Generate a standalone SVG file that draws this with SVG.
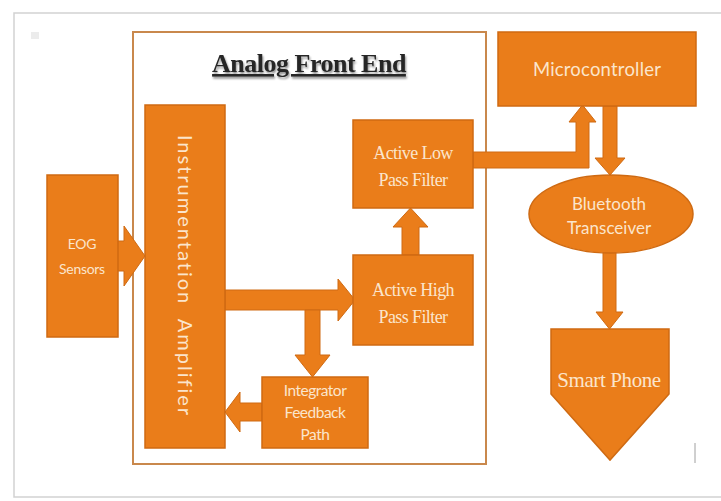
<svg xmlns="http://www.w3.org/2000/svg" width="721" height="501" viewBox="0 0 721 501">
  <defs>
    <style>
      .blk { fill: #ea7d1a; stroke: #cf6a12; stroke-width: 1.5; }
      .arw { fill: #ea7d1a; stroke: #cf6a12; stroke-width: 1; }
      .lbl { fill: #fbe5cc; text-anchor: middle; }
      .serif { font-family: "Liberation Serif", "DejaVu Serif", serif; }
      .sans { font-family: Lato, "Open Sans", "DejaVu Sans", sans-serif; }
    </style>
    <filter id="shadow" x="-10%" y="-30%" width="120%" height="160%">
      <feGaussianBlur in="SourceAlpha" stdDeviation="1"/>
      <feOffset dx="1" dy="2" result="b"/>
      <feComponentTransfer><feFuncA type="linear" slope="0.45"/></feComponentTransfer>
      <feMerge><feMergeNode/><feMergeNode in="SourceGraphic"/></feMerge>
    </filter>
  </defs>

  <!-- page background and sheet edge -->
  <rect x="0" y="0" width="721" height="501" fill="#ffffff"/>
  <rect x="14" y="13" width="720" height="484" fill="#ffffff" stroke="#d2d2d2" stroke-width="1.5"/>
  <rect x="31" y="32" width="8" height="7" fill="#ececec"/>
  <line x1="695" y1="443" x2="695" y2="463" stroke="#a0a0a0" stroke-width="1"/>

  <!-- analog front end frame -->
  <g id="afe-frame">
    <rect x="133" y="32" width="353" height="432" fill="none" stroke="#c9884c" stroke-width="2"/>
    <text x="309" y="72" font-family="'Liberation Serif', 'DejaVu Serif', serif" font-weight="bold" font-size="26" fill="#262626" text-anchor="middle" text-decoration="underline" letter-spacing="-0.5" filter="url(#shadow)">Analog Front End</text>
  </g>

  <!-- connectors -->
  <g id="connectors">
    <polygon class="arw" points="117,241 124,241 124,226 145,256 124,286 124,271 117,271"/>
    <polygon class="arw" points="225,290 338,290 338,279 355,300 338,321 338,310 225,310"/>
    <polygon class="arw" points="305,310 320,310 320,355 330,355 312.5,377 295,355 305,355"/>
    <polygon class="arw" points="262,403 240,403 240,392 225,412 240,432 240,421 262,421"/>
    <polygon class="arw" points="402,255 402,227 393,227 410.5,208 428,227 419,227 419,255"/>
    <polygon class="arw" points="473,152 576,152 576,122 569,122 582.5,105 596,122 589,122 589,168 473,168"/>
    <polygon class="arw" points="603,106 617,106 617,158 625,158 610,175 595,158 603,158"/>
    <polygon class="arw" points="603,252 616,252 616,312 623,312 609.5,329 596,312 603,312"/>
  </g>

  <!-- nodes -->
  <g id="eog-sensors">
    <rect class="blk" x="47" y="175" width="71" height="162"/>
    <text class="lbl sans" x="82" y="249" font-size="14" letter-spacing="-0.3">EOG</text>
    <text class="lbl sans" x="82" y="274" font-size="14" letter-spacing="-0.3">Sensors</text>
  </g>

  <g id="instrumentation-amplifier">
    <rect class="blk" x="145" y="105" width="80" height="343"/>
    <text class="lbl sans" x="0" y="0" font-size="20" letter-spacing="2" transform="translate(178,276) rotate(90)" xml:space="preserve">Instrumentation  Amplifier</text>
  </g>

  <g id="active-low-pass-filter">
    <rect class="blk" x="353" y="120" width="120" height="88"/>
    <text class="lbl serif" x="413" y="159" font-size="18" letter-spacing="-0.6">Active Low</text>
    <text class="lbl serif" x="413" y="186" font-size="18" letter-spacing="-0.6">Pass Filter</text>
  </g>

  <g id="active-high-pass-filter">
    <rect class="blk" x="353" y="255" width="120" height="90"/>
    <text class="lbl serif" x="413" y="296" font-size="18" letter-spacing="-0.6">Active High</text>
    <text class="lbl serif" x="413" y="323" font-size="18" letter-spacing="-0.6">Pass Filter</text>
  </g>

  <g id="integrator-feedback-path">
    <rect class="blk" x="262" y="377" width="106" height="71"/>
    <text class="lbl sans" x="315" y="396" font-size="15.5" letter-spacing="-0.5">Integrator</text>
    <text class="lbl sans" x="315" y="418" font-size="15.5" letter-spacing="-0.5">Feedback</text>
    <text class="lbl sans" x="315" y="440" font-size="15.5" letter-spacing="-0.5">Path</text>
  </g>

  <g id="microcontroller">
    <rect class="blk" x="498" y="32" width="198" height="74"/>
    <text class="lbl sans" x="597" y="76" font-size="18.5" letter-spacing="0.2">Microcontroller</text>
  </g>

  <g id="bluetooth-transceiver">
    <ellipse class="blk" cx="611" cy="214" rx="82" ry="39"/>
    <text class="lbl sans" x="609" y="210" font-size="17">Bluetooth</text>
    <text class="lbl sans" x="609" y="234" font-size="17">Transceiver</text>
  </g>

  <g id="smart-phone">
    <polygon class="blk" points="551,329 669,329 669,394 610,460 551,394"/>
    <text class="lbl serif" x="609" y="387" font-size="21" letter-spacing="-0.4">Smart Phone</text>
  </g>
</svg>
